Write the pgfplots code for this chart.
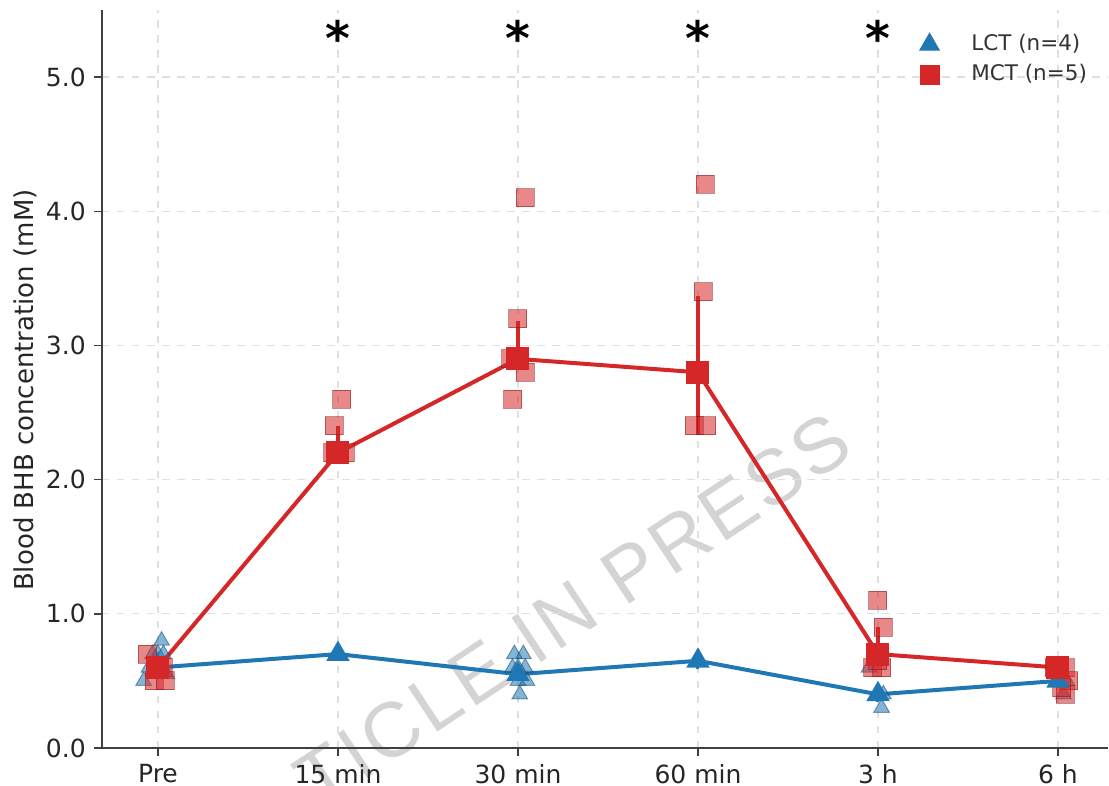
\documentclass[border=0pt]{standalone}
\usepackage{pgfplots}
\pgfplotsset{compat=1.18}
\usepackage{fontspec}
\setmainfont{DejaVu Sans}
\newfontfamily\wmfont[LetterSpace=5]{Liberation Sans}
\definecolor{lctblue}{HTML}{1F77B4}
\definecolor{mctred}{HTML}{D62728}
\begin{document}
\begin{tikzpicture}[x=1pt,y=1pt]
% watermark (behind everything)
\node[overlay, rotate=33.5, text=black!17, font=\wmfont\fontsize{31}{31}\selectfont] at (188.4pt,55.2pt) {TICLE IN PRESS};
\begin{axis}[
  name=ax,
  scale only axis,
  width=402.4pt, height=295.2pt,
  xmin=-0.311, xmax=5.278,
  ymin=0, ymax=5.5,
  axis x line*=bottom, axis y line*=left,
  axis line style={black!75, line width=0.7pt, -},
  xtick={0,1,2,3,4,5},
  xticklabels={Pre,15 min,30 min,60 min,3 h,6 h},
  ytick={0,1,2,3,4,5},
  yticklabel style={/pgf/number format/.cd, fixed, fixed zerofill, precision=1},
  /pgf/number format/assume math mode=true,
  tick align=outside,
  major tick length=3pt,
  tick style={black!75, line width=0.6pt},
  ticklabel style={font=\fontsize{10}{12}\selectfont, text=black!85},
  ylabel={Blood BHB concentration (mM)},
  ylabel style={font=\fontsize{10.4}{12}\selectfont, text=black!85,
    at={(axis description cs:-0.0765,0.485)}, anchor=center},
  grid=major,
  major grid style={dashed, black!12, line width=0.5pt},
  legend style={draw=none, fill=none, font=\fontsize{8.6}{10}\selectfont, text=black!80,
    at={(0.992,0.981)}, anchor=north east, row sep=0pt},
  legend image code/.code={\path (0cm,0cm) (0.6cm,0cm); \draw[#1] plot coordinates {(0.09cm,0cm)};},
  legend cell align=left,
  clip=false,
]
% legend images
\addlegendimage{only marks, mark=triangle*, mark size=4.5pt, mark options={fill=lctblue, draw=lctblue}}
\addlegendentry{LCT (n=4)}
\addlegendimage{only marks, mark=square*, mark size=3.8pt, mark options={fill=mctred, draw=mctred}}
\addlegendentry{MCT (n=5)}

% individual LCT points
\addplot[only marks, mark=triangle*, mark size=3.6pt, forget plot,
  mark options={fill=lctblue, fill opacity=0.55, draw=lctblue!60!black, draw opacity=0.5, line width=0.4pt}]
coordinates {
(0.02,0.8) (-0.08,0.5) (0.0,0.6) (0.05,0.55)
(-0.05,0.6) (-0.03,0.7) (0.0,0.7) (0.03,0.7)
(1.97,0.6) (2.04,0.6) (2.0,0.5) (2.05,0.5)
(2.03,0.7) (1.98,0.7) (2.0,0.6) (2.01,0.4)
(3.95,0.6) (4.0,0.4) (4.03,0.4) (4.02,0.3)
(5.0,0.5) (5.02,0.55) (5.05,0.5) (5.03,0.4)
};
% individual MCT points
\addplot[only marks, mark=square*, mark size=3.6pt, forget plot,
  mark options={fill=mctred, fill opacity=0.55, draw=mctred!60!black, draw opacity=0.5, line width=0.4pt}]
coordinates {
(-0.06,0.7) (0.03,0.6) (-0.02,0.5) (0.04,0.5) (0.0,0.6)
(1.02,2.6) (0.98,2.4) (1.0,2.2) (1.04,2.2) (0.97,2.2)
(2.04,4.1) (2.0,3.2) (1.96,2.9) (2.04,2.8) (1.97,2.6)
(3.04,4.2) (3.03,3.4) (2.98,2.4) (3.05,2.4) (3.0,2.8)
(4.0,1.1) (4.03,0.9) (3.97,0.6) (4.02,0.6) (4.0,0.65)
(4.98,0.6) (5.04,0.6) (5.06,0.5) (5.04,0.4) (5.02,0.45)
};
% LCT mean
\addplot[color=lctblue, line width=1.6pt, mark=triangle*, mark size=3.8pt, forget plot,
  mark options={solid, fill=lctblue},
  error bars/.cd, y dir=both, y explicit, error bar style={line width=1.2pt, lctblue}, error mark=none]
coordinates {
(0,0.6) +- (0,0.05)
(1,0.7) +- (0,0.03)
(2,0.55) +- (0,0.04)
(3,0.65) +- (0,0.06)
(4,0.4) +- (0,0.06)
(5,0.5) +- (0,0.03)
};
% MCT mean
\addplot[color=mctred, line width=1.6pt, mark=square*, mark size=3.8pt, forget plot,
  mark options={solid, fill=mctred},
  error bars/.cd, y dir=both, y explicit, error bar style={line width=1.4pt, mctred}, error mark=none]
coordinates {
(0,0.6) += (0,0.05) -= (0,0)
(1,2.2) += (0,0.2) -= (0,0)
(2,2.9) += (0,0.28) -= (0,0)
(3,2.8) += (0,0.57) -= (0,0.47)
(4,0.7) += (0,0.2) -= (0,0)
(5,0.6) += (0,0.02) -= (0,0)
};
% significance stars
\node[font=\fontsize{19}{19}\selectfont\bfseries] at (axis cs:1,5.29) {*};
\node[font=\fontsize{19}{19}\selectfont\bfseries] at (axis cs:2,5.29) {*};
\node[font=\fontsize{19}{19}\selectfont\bfseries] at (axis cs:3,5.29) {*};
\node[font=\fontsize{19}{19}\selectfont\bfseries] at (axis cs:4,5.29) {*};
\end{axis}
\pgfresetboundingbox
\path (-40.8pt,-14.8pt) rectangle (402.8pt,299.2pt);
\end{tikzpicture}
\end{document}
